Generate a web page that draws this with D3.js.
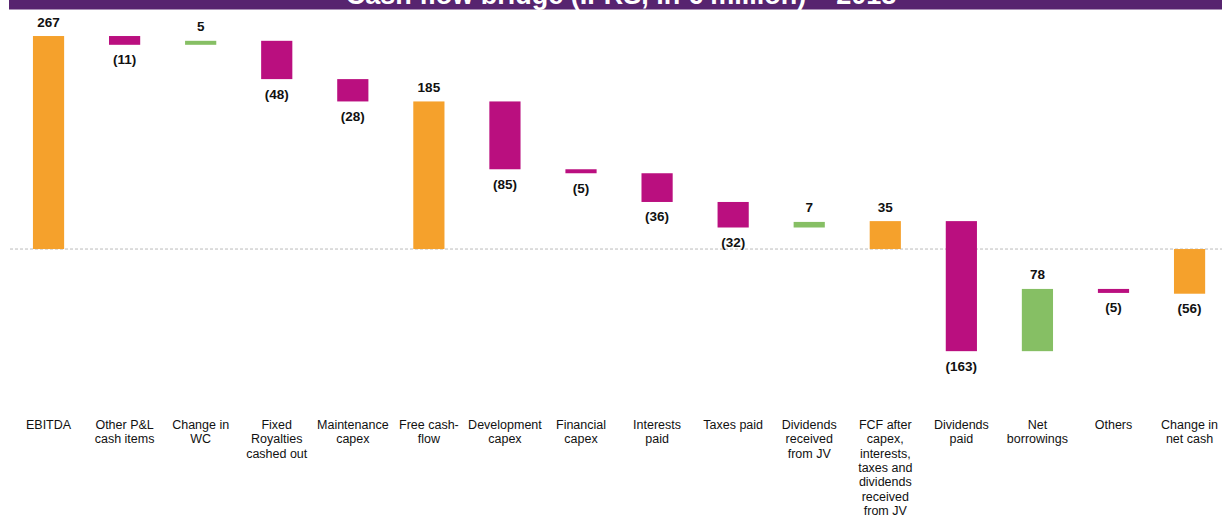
<!DOCTYPE html>
<html>
<head>
<meta charset="utf-8">
<script src="https://cdn.jsdelivr.net/npm/d3@7"></script>
<style>
  body { margin: 0; background: #fff; }
  svg { display: block; font-family: "Liberation Sans", Arial, sans-serif; }
  .cat { font-size: 12.5px; fill: #111; }
  .val { font-size: 13.5px; font-weight: bold; fill: #111; }
  .title { font-size: 27px; font-weight: bold; fill: #fff; }
</style>
</head>
<body>
<svg id="chart" width="1222" height="518"></svg>
<script>
const title = "Cash flow bridge (IFRS, in € million) – 2018";

const categories = [
    ["EBITDA"],
    ["Other P&L", "cash items"],
    ["Change in", "WC"],
    ["Fixed", "Royalties", "cashed out"],
    ["Maintenance", "capex"],
    ["Free cash-", "flow"],
    ["Development", "capex"],
    ["Financial", "capex"],
    ["Interests", "paid"],
    ["Taxes paid"],
    ["Dividends", "received", "from JV"],
    ["FCF after", "capex,", "interests,", "taxes and", "dividends", "received", "from JV"],
    ["Dividends", "paid"],
    ["Net", "borrowings"],
    ["Others"],
    ["Change in", "net cash"]
];

// value of each step, and whether it is a total bar
const values = [267, -11, 5, -48, -28, 185, -85, -5, -36, -32, 7, 35, -163, 78, -5, -56];
const isTotal = [true, false, false, false, false, true, false, false, false, false, false, true, false, false, false, true];

const colors = { total: "#F5A12C", down: "#BA0F7F", up: "#86BF64" };

const W = 1222, H = 518;
const svg = d3.select("#chart");

// build waterfall segments
let running = 0;
const bars = values.map((v, i) => {
    let start, end, kind;
    if (isTotal[i]) {
        start = 0; end = v; kind = "total";
        running = v;
    } else {
        start = running; end = running + v; kind = v < 0 ? "down" : "up";
        running = end;
    }
    return { i, v, start, end, kind, key: categories[i].join(" ") };
});

const x = d3.scaleBand()
    .domain(bars.map(b => b.key))
    .range([10.5, 1227.6])
    .paddingInner(0.59)
    .paddingOuter(0.295);

const y = d3.scaleLinear()
    .domain([-200, 300])
    .range([408.6, 9.7]);

// title banner (cut off at the top)
svg.append("rect")
    .attr("x", 9).attr("y", 0)
    .attr("width", W - 9).attr("height", 9.5)
    .attr("fill", "#57246F");

svg.append("text")
    .attr("class", "title")
    .attr("x", 621).attr("y", 3.5)
    .attr("text-anchor", "middle")
    .text(title);

// zero line
svg.append("line")
    .attr("x1", 10).attr("x2", W)
    .attr("y1", y(0)).attr("y2", y(0))
    .attr("stroke", "#bbb")
    .attr("stroke-width", 1)
    .attr("stroke-dasharray", "3,2");

svg.selectAll("rect.bar")
    .data(bars)
    .enter().append("rect")
    .attr("class", "bar")
    .attr("x", b => x(b.key))
    .attr("width", x.bandwidth())
    .attr("y", b => y(Math.max(b.start, b.end)))
    .attr("height", b => Math.abs(y(b.start) - y(b.end)))
    .attr("fill", b => colors[b.kind]);

const fmt = v => v < 0 ? `(${Math.abs(v)})` : `${v}`;

svg.selectAll("text.val")
    .data(bars)
    .enter().append("text")
    .attr("class", "val")
    .attr("text-anchor", "middle")
    .attr("x", b => x(b.key) + x.bandwidth() / 2)
    .attr("y", b => b.v >= 0
        ? y(Math.max(b.start, b.end)) - 9.5
        : y(Math.min(b.start, b.end)) + 19.5)
    .text(b => fmt(b.v));

const labels = svg.selectAll("text.cat")
    .data(bars)
    .enter().append("text")
    .attr("class", "cat")
    .attr("text-anchor", "middle")
    .attr("x", b => x(b.key) + x.bandwidth() / 2)
    .attr("y", 429);

labels.selectAll("tspan")
    .data(b => categories[b.i].map(line => ({ line, cx: x(b.key) + x.bandwidth() / 2 })))
    .enter().append("tspan")
    .attr("x", d => d.cx)
    .attr("dy", (d, j) => j === 0 ? 0 : 14.3)
    .text(d => d.line);
</script>
</body>
</html>
